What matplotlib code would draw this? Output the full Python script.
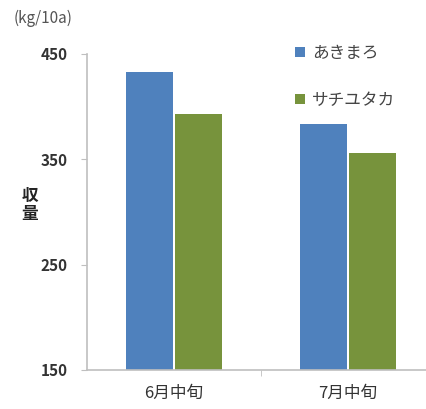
import matplotlib.pyplot as plt
import numpy as np

plt.rcParams['font.family'] = ['Noto Sans CJK JP', 'DejaVu Sans']

categories = ['6月中旬', '7月中旬']
series_names = ['あきまろ', 'サチユタカ']
akimaro = [433, 384]
sachiyutaka = [393, 356]
colors = ['#4F81BD', '#77933C']

fig = plt.figure(figsize=(4.27, 4.09), dpi=100)
ax = fig.add_axes([87 / 427, 1 - 370 / 409, 1 - 87 / 427, 316 / 409])

x = np.arange(len(categories))
w = 0.27
ax.bar(x - w / 2 - 0.005, akimaro, w, color=colors[0], label=series_names[0])
ax.bar(x + w / 2 + 0.005, sachiyutaka, w, color=colors[1], label=series_names[1])

ax.set_ylim(150, 450)
ax.set_yticks([150, 250, 350, 450])
ax.set_xlim(-0.5, -0.5 + 340 / 174)
ax.set_xticks(x)
ax.set_xticklabels(categories, fontsize=12, color='#333333')
ax.set_xticks([0.5], minor=True)
ax.tick_params(axis='x', which='major', length=0, pad=11)
ax.tick_params(axis='x', which='minor', length=4, color='#BFBFBF', direction='out')
ax.tick_params(axis='y', length=4, color='#BFBFBF', labelsize=11, labelcolor='#333333', pad=10)
for lab in ax.get_yticklabels():
    lab.set_fontweight('bold')

for s in ['top', 'right']:
    ax.spines[s].set_visible(False)
ax.spines['left'].set_color('#BFBFBF')
ax.spines['bottom'].set_color('#BFBFBF')
ax.spines['left'].set_linewidth(1.2)
ax.spines['bottom'].set_linewidth(1.2)

fig.text(14 / 427, 1 - 18 / 409, '(kg/10a)', fontsize=11, color='#555555', va='center', ha='left')
fig.text(30 / 427, 1 - 205 / 409, '収\n量', fontsize=12, fontweight='bold', color='#222222',
         va='center', ha='center', linespacing=1.0)

leg = ax.legend(loc='upper left', bbox_to_anchor=(280 / 427, 1 - 30 / 409), bbox_transform=fig.transFigure,
                frameon=False, fontsize=12, handlelength=0.6, handleheight=0.6, handletextpad=0.4,
                labelspacing=1.8, labelcolor='#444444')

fig.savefig('out.png', dpi=100)
